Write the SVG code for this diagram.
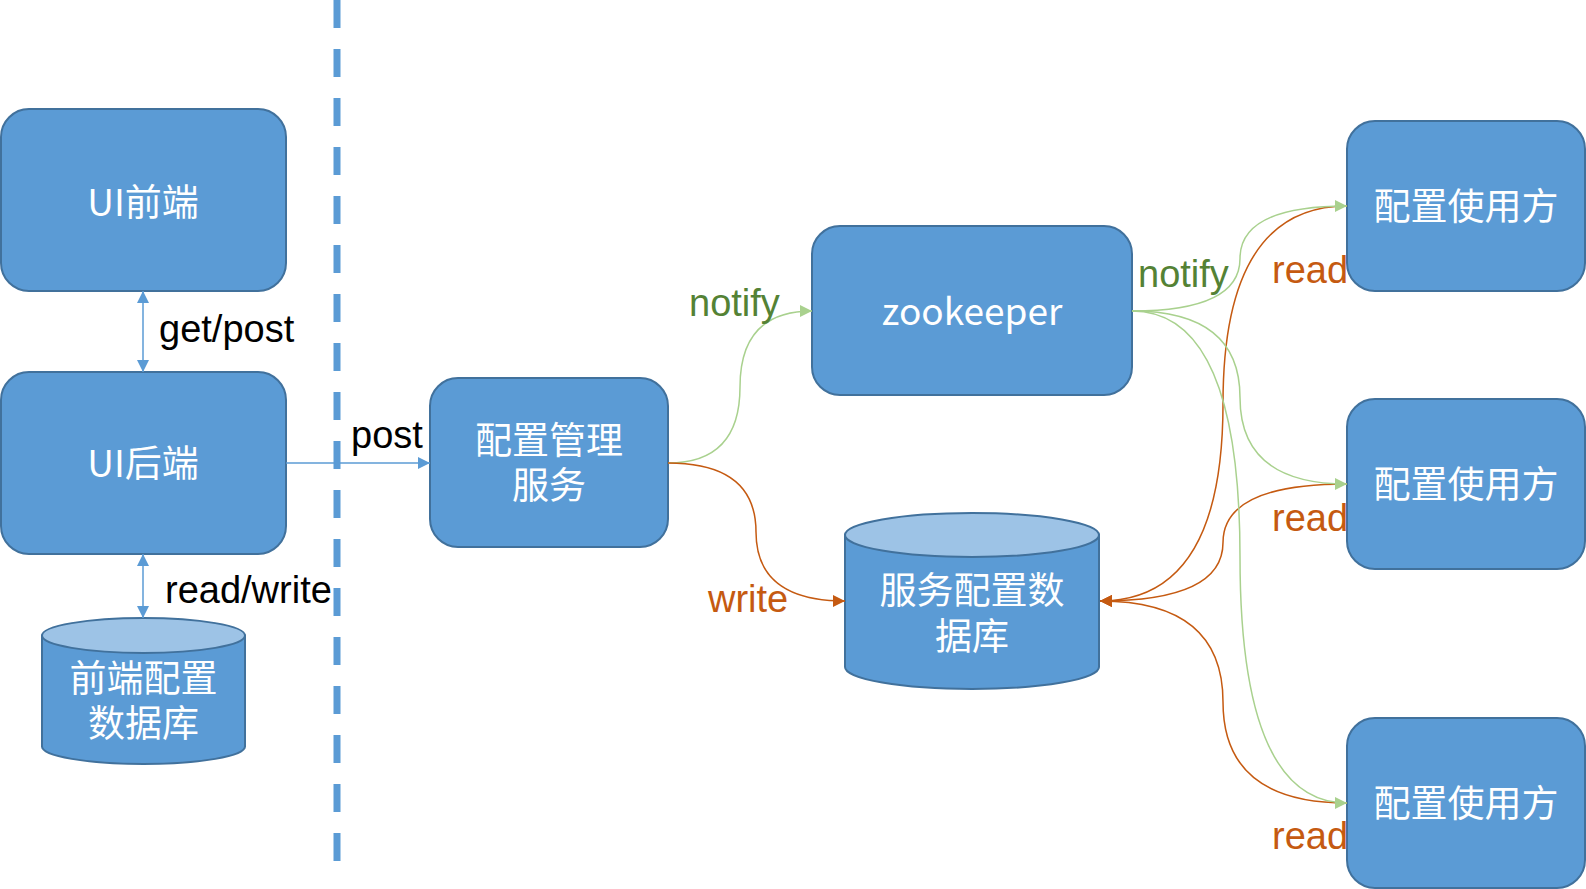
<svg xmlns="http://www.w3.org/2000/svg" width="1586" height="889" viewBox="0 0 1586 889">
<defs>
<style>
.node{fill:#5B9BD5;stroke:#41719C;stroke-width:2}
.top{fill:#9DC3E6;stroke:#41719C;stroke-width:2}
.nt{fill:#fff;font-family:"Noto Sans CJK SC","Noto Sans",sans-serif;font-size:37px;text-anchor:middle}
.lbl{font-family:"Liberation Sans",Arial,sans-serif;font-size:38px}
.blk{fill:#000}
.grn{fill:#548235}
.org{fill:#C55A11}
.cb{fill:none;stroke:#5B9BD5;stroke-width:1.5}
.cg{fill:none;stroke:#A9D18E;stroke-width:1.5}
.co{fill:none;stroke:#C55A11;stroke-width:1.5}
</style>
<marker id="ab" markerUnits="userSpaceOnUse" markerWidth="13" markerHeight="12" refX="12" refY="6" orient="auto-start-reverse"><path d="M0,0 L12,6 L0,12 Z" fill="#5B9BD5"/></marker>
<marker id="ag" markerUnits="userSpaceOnUse" markerWidth="13" markerHeight="12" refX="12" refY="6" orient="auto"><path d="M0,0 L12,6 L0,12 Z" fill="#A9D18E"/></marker>
<marker id="ao" markerUnits="userSpaceOnUse" markerWidth="13" markerHeight="12" refX="12" refY="6" orient="auto"><path d="M0,0 L12,6 L0,12 Z" fill="#C55A11"/></marker>
</defs>
<rect width="1586" height="889" fill="#fff"/>
<line x1="337" y1="0" x2="337" y2="862" stroke="#5B9BD5" stroke-width="7" stroke-dasharray="28 21"/>

<g id="ui-frontend"><rect class="node" x="1" y="109" width="285" height="182" rx="28"/><text class="nt" x="143" y="216" font-size="36">UI前端</text></g>
<g id="ui-backend"><rect class="node" x="1" y="372" width="285" height="182" rx="28"/><text class="nt" x="143" y="477" font-size="36">UI后端</text></g>
<g id="frontend-db"><path class="node" d="M42,635.5 L42,746.5 A101.5,17.5 0 0 0 245,746.5 L245,635.5 Z"/><ellipse class="top" cx="143.5" cy="635.5" rx="101.5" ry="17.5"/><text class="nt" x="143.5" y="692">前端配置<tspan x="143.5" dy="45">数据库</tspan></text></g>
<g id="config-service"><rect class="node" x="430" y="378" width="238" height="169" rx="28"/><text class="nt" x="549" y="454">配置管理<tspan x="549" dy="45">服务</tspan></text></g>
<g id="zookeeper"><rect class="node" x="812" y="226" width="320" height="169" rx="28"/><text class="nt" x="972" y="325" font-size="34">zookeeper</text></g>
<g id="service-db"><path class="node" d="M845,535 L845,667 A127,22 0 0 0 1099,667 L1099,535 Z"/><ellipse class="top" cx="972" cy="535" rx="127" ry="22"/><text class="nt" x="972" y="604">服务配置数<tspan x="972" dy="46">据库</tspan></text></g>
<g id="consumer-1"><rect class="node" x="1347" y="121" width="238" height="170" rx="28"/><text class="nt" x="1466" y="220">配置使用方</text></g>
<g id="consumer-2"><rect class="node" x="1347" y="399" width="238" height="170" rx="28"/><text class="nt" x="1466" y="498">配置使用方</text></g>
<g id="consumer-3"><rect class="node" x="1347" y="718" width="238" height="170" rx="28"/><text class="nt" x="1466" y="817">配置使用方</text></g>

<g id="connectors">
<line class="cb" x1="143" y1="291" x2="143" y2="372" marker-start="url(#ab)" marker-end="url(#ab)"/>
<line class="cb" x1="143" y1="554" x2="143" y2="618" marker-start="url(#ab)" marker-end="url(#ab)"/>
<line class="cb" x1="286" y1="463" x2="430" y2="463" marker-end="url(#ab)"/>
<path class="cg" d="M668,463 Q740,463 740,387 Q740,311 812,311" marker-end="url(#ag)"/>
<path class="co" d="M668,463 Q756,463 756,532 Q756,601 845,601" marker-end="url(#ao)"/>
<path class="co" d="M1347,206 Q1223,206 1223,403.5 Q1223,601 1100,601" marker-end="url(#ao)"/>
<path class="co" d="M1347,484 Q1223,484 1223,542.5 Q1223,601 1100,601" marker-end="url(#ao)"/>
<path class="co" d="M1347,803 Q1223,803 1223,702 Q1223,601 1100,601" marker-end="url(#ao)"/>
<path class="cg" d="M1132,311 Q1240,311 1240,258.5 Q1240,206 1347,206" marker-end="url(#ag)"/>
<path class="cg" d="M1132,311 Q1240,311 1240,397.5 Q1240,484 1347,484" marker-end="url(#ag)"/>
<path class="cg" d="M1132,311 Q1240,311 1240,557 Q1240,803 1347,803" marker-end="url(#ag)"/>
</g>

<g id="labels">
<text class="lbl blk" x="159" y="342">get/post</text>
<text class="lbl blk" x="165" y="603">read/write</text>
<text class="lbl blk" x="351" y="448">post</text>
<text class="lbl grn" x="689" y="316">notify</text>
<text class="lbl org" x="708" y="612">write</text>
<text class="lbl grn" x="1138" y="287">notify</text>
<text class="lbl org" x="1272" y="283">read</text>
<text class="lbl org" x="1272" y="531">read</text>
<text class="lbl org" x="1272" y="849">read</text>
</g>
</svg>
